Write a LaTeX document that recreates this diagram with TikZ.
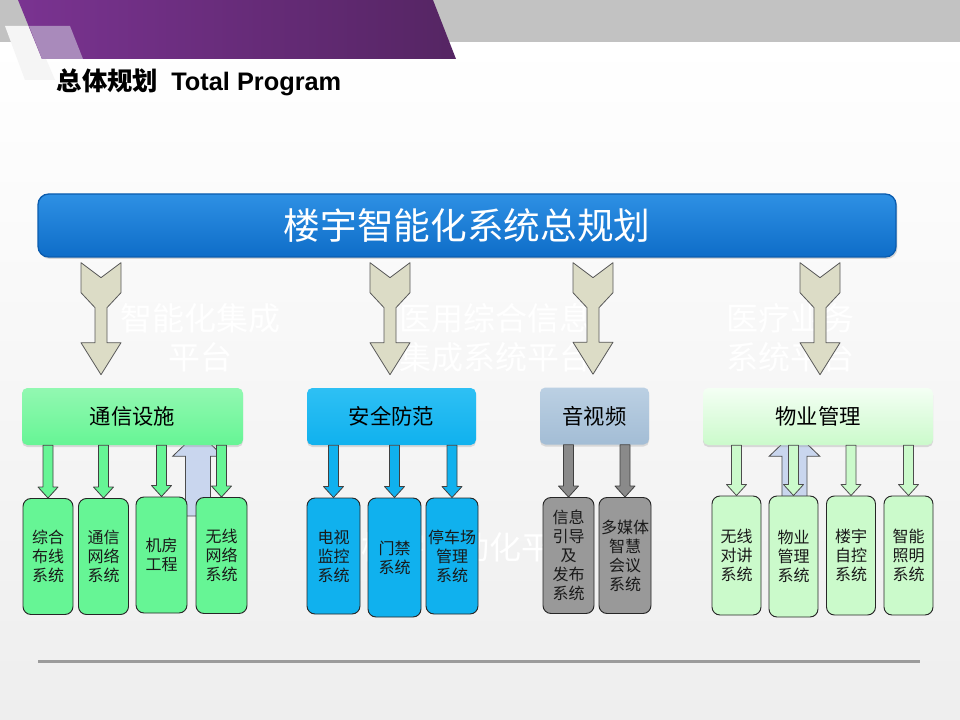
\documentclass[tikz,border=0pt]{standalone}
\usepackage{fontspec}
\setmainfont{Noto Sans CJK SC}
\newfontfamily\latinfont{Liberation Sans}
\usetikzlibrary{calc,shadows,backgrounds}

\definecolor{bandgray}{HTML}{C2C2C2}
\definecolor{bggray}{HTML}{EEEEEE}
\definecolor{purpleL}{HTML}{7A3391}
\definecolor{purpleR}{HTML}{552563}
\definecolor{purplelight}{HTML}{A98ABB}
\definecolor{bartop}{HTML}{2E90E4}
\definecolor{barbot}{HTML}{0E6DC8}
\definecolor{bardraw}{HTML}{0B5CAE}
\definecolor{khaki}{HTML}{DCDCC6}
\definecolor{greenA}{HTML}{66F595}
\definecolor{greenAtop}{HTML}{92F8B1}
\definecolor{blueB}{HTML}{10B1EE}
\definecolor{blueBtop}{HTML}{2EC0F4}
\definecolor{steelC}{HTML}{A3BDD5}
\definecolor{steelCtop}{HTML}{BBD0E3}
\definecolor{grayC}{HTML}{999999}
\definecolor{grayCarr}{HTML}{8A8A8A}
\definecolor{greenD}{HTML}{CBFACB}
\definecolor{greenDtop}{HTML}{F4FFF4}
\definecolor{backblue}{HTML}{C9D6EE}

\newcommand{\leaffont}{\fontsize{12}{14.25}\selectfont}
\newcommand{\groupfont}{\fontsize{16}{19}\selectfont}
\newcommand{\barfont}{\fontsize{27.5}{32}\selectfont}
\newcommand{\faintfont}{\fontsize{24}{29}\selectfont}

% big arrow from the bar down to a group box (x given in px)
\newcommand{\mainarrow}[2]{%
  \filldraw[bigarrow] let \p1=(bar.south), \p2=(#2.north), \p3=(#1,0) in
  (\x3-15pt,\y1-3.75pt) -- (\x3,\y1-15pt) -- (\x3+15pt,\y1-3.75pt) -- (\x3+15pt,\y1-26.25pt)
  -- (\x3+4.5pt,\y1-37.5pt) -- (\x3+4.5pt,\y2+33.75pt) -- (\x3+15pt,\y2+33.75pt) -- (\x3,\y2+9.75pt)
  -- (\x3-15pt,\y2+33.75pt) -- (\x3-4.5pt,\y2+33.75pt) -- (\x3-4.5pt,\y1-37.5pt) -- (\x3-15pt,\y1-26.25pt) -- cycle;}
% small arrow from a group box down to a system box
\newcommand{\subarrow}[3]{%
  \filldraw[#1] let \p1=(#2.south), \p2=(#3.north) in
  (\x2-3.75pt,\y1) -- (\x2+3.75pt,\y1) -- (\x2+3.75pt,\y2+8.25pt) -- (\x2+7.5pt,\y2+8.25pt)
  -- (\x2,\y2) -- (\x2-7.5pt,\y2+8.25pt) -- (\x2-3.75pt,\y2+8.25pt) -- cycle;}
% up arrow behind the boxes
\newcommand{\backarrow}[3]{%
  \filldraw[uparrow] let \p1=(#1,#2), \p2=(#3.south) in
  (\x1-9.4pt,\y1) -- (\x1-9.4pt,\y2-8.25pt) -- (\x1-19pt,\y2-8.25pt) -- (\x1,\y2+10pt)
  -- (\x1+19pt,\y2-8.25pt) -- (\x1+9.4pt,\y2-8.25pt) -- (\x1+9.4pt,\y1) -- cycle;}

\begin{document}
\begin{tikzpicture}[line join=round,x=0.75pt,y=-0.75pt,
  bigarrow/.style={fill=khaki,draw=black!65,line width=0.6pt},
  uparrow/.style={fill=backblue,draw=black!70,line width=0.6pt},
  arrA/.style={fill=greenA,draw=black!75,line width=0.6pt},
  arrB/.style={fill=blueB,draw=black!75,line width=0.6pt},
  arrC/.style={fill=grayCarr,draw=black!75,line width=0.6pt},
  arrD/.style={fill=greenD,draw=black!70,line width=0.6pt},
  group/.style={rounded corners=4pt,minimum height=42.75pt,inner sep=0pt,font=\groupfont,
    drop shadow={shadow xshift=0pt,shadow yshift=-1.5pt,opacity=0.25}},
  leaf/.style={draw=black!85,line width=0.7pt,rounded corners=6pt,minimum width=37.5pt,
    minimum height=87pt,inner sep=0pt,align=center,font=\leaffont,text=black!90},
  faint/.style={text=white,align=center,font=\faintfont}]
\useasboundingbox (0,0) rectangle (960,720);
%%%% FONDO
\begin{pgfonlayer}{background}
\fill[top color=white,bottom color=bggray] (0,42) rectangle (960,720);
\fill[bandgray] (0,0) rectangle (960,42);
\fill[black!4] (5,26) -- (32,26) -- (55,80) -- (25,80) -- cycle;
\shade[left color=purpleL,right color=purpleR] (18,0) -- (433,0) -- (456,59) -- (42,59) -- cycle;
\fill[purplelight] (29,26) -- (70,26) -- (83,59) -- (42,59) -- cycle;
\end{pgfonlayer}
\draw[bandgray!80!black,line width=2.25pt] (38,661) -- (920,661);

%%%% TITULO
\node[anchor=west,font=\fontsize{19}{22}\selectfont\bfseries] (title) at (52,82)
  {总体规划\hspace{10pt}{\latinfont\bfseries Total Program}};

%%%% TEXTOS DE FONDO
\node[faint] (f1) at (200,337.5) {智能化集成\\平台};
\node[faint] (f2) at (495,337.5) {医用综合信息\\集成系统平台};
\node[faint] (f3) at (790,337.5) {医疗业务\\系统平台};
\node[faint] (f4) at (473,547) {楼宇自动化平台};

%%%% BARRA PRINCIPAL
\node[rounded corners=8pt,top color=bartop,bottom color=barbot,draw=bardraw,line width=1pt,
  minimum width=643.5pt,minimum height=47.25pt,text=white,font=\barfont,
  drop shadow={shadow xshift=1pt,shadow yshift=-1.5pt,opacity=0.3}] (bar) at (467,225.5)
  {楼宇智能化系统总规划};

%%%% GRUPOS
\node[group,top color=greenAtop,bottom color=greenA,minimum width=165.75pt] (h1) at (132.5,416.5) {通信设施};
\node[group,top color=blueBtop,bottom color=blueB,minimum width=126.75pt] (h2) at (391.5,416.5) {安全防范};
\node[group,top color=steelCtop,bottom color=steelC,minimum width=81.75pt] (h3) at (594.5,416) {音视频};
\node[group,top color=greenDtop,bottom color=greenD,minimum width=172.5pt] (h4) at (818,416.5) {物业管理};

%%%% SISTEMAS
\node[leaf,fill=greenA] (l11) at (48,556.5) {综合\\布线\\系统};
\node[leaf,fill=greenA] (l12) at (103.5,556.5) {通信\\网络\\系统};
\node[leaf,fill=greenA,minimum width=38.25pt] (l13) at (161.5,555) {机房\\工程};
\node[leaf,fill=greenA,minimum width=38.25pt] (l14) at (221.5,555.5) {无线\\网络\\系统};

\node[leaf,fill=blueB,minimum width=39.75pt] (l21) at (333.5,556) {电视\\监控\\系统};
\node[leaf,fill=blueB,minimum width=39.75pt,minimum height=89.25pt] (l22) at (394.5,557.5) {门禁\\系统};
\node[leaf,fill=blueB,minimum width=39pt] (l23) at (452,556) {停车场\\管理\\系统};

\node[leaf,fill=grayC,minimum width=38.25pt] (l31) at (568.5,555.5) {信息\\引导\\及\\发布\\系统};
\node[leaf,fill=grayC,minimum width=39pt] (l32) at (625,555.5) {多媒体\\智慧\\会议\\系统};

\node[leaf,fill=greenD,minimum width=36.75pt,minimum height=89.25pt] (l41) at (736.5,555.5) {无线\\对讲\\系统};
\node[leaf,fill=greenD,minimum width=36.75pt,minimum height=90.75pt] (l42) at (793.5,556.5) {物业\\管理\\系统};
\node[leaf,fill=greenD,minimum width=36.75pt,minimum height=89.25pt] (l43) at (851,555.5) {楼宇\\自控\\系统};
\node[leaf,fill=greenD,minimum width=36.75pt,minimum height=89.25pt] (l44) at (908.5,555.5) {智能\\照明\\系统};

%%%% FLECHAS
\mainarrow{101}{h1}
\mainarrow{390}{h2}
\mainarrow{593}{h3}
\mainarrow{820}{h4}

\begin{pgfonlayer}{background}
\backarrow{198}{516}{h1}
\backarrow{794.5}{505}{h4}
\end{pgfonlayer}

\foreach \l in {l11,l12,l13,l14} {\subarrow{arrA}{h1}{\l}}
\foreach \l in {l21,l22,l23} {\subarrow{arrB}{h2}{\l}}
\foreach \l in {l31,l32} {\subarrow{arrC}{h3}{\l}}
\foreach \l in {l41,l42,l43,l44} {\subarrow{arrD}{h4}{\l}}
\end{tikzpicture}
\end{document}
